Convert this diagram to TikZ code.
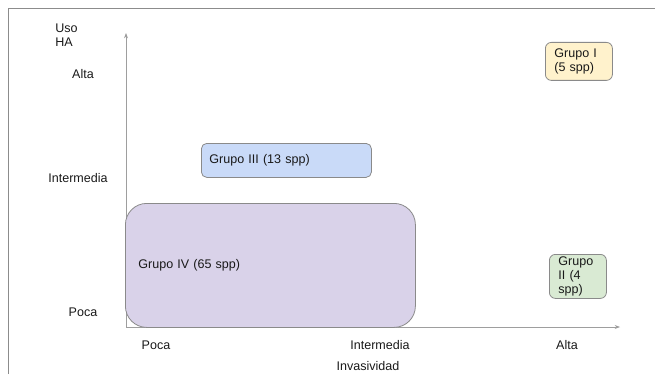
\documentclass[tikz,border=0pt]{standalone}
\usepackage{fontspec}
\setmainfont{Liberation Sans}
\usetikzlibrary{arrows.meta}
\definecolor{frameg}{HTML}{8C8C8C}
\definecolor{axisg}{HTML}{9E9E9E}
\definecolor{boxline}{HTML}{8A8A8A}
\definecolor{fillI}{HTML}{FFF2CC}
\definecolor{fillII}{HTML}{D9EAD3}
\definecolor{fillIII}{HTML}{C9DAF8}
\definecolor{fillIV}{HTML}{D9D2E9}
\begin{document}
\begin{tikzpicture}[x=0.75pt,y=-0.75pt,
  every node/.style={font=\fontsize{9.4}{10.8}\selectfont, text=black!90},
  lbl/.style={inner sep=0pt},
  grp/.style={draw=boxline, line width=0.6pt, anchor=north west, align=left, inner ysep=0pt},
  axisline/.style={draw=axisg, line width=0.6pt, -{Stealth[length=4pt,width=3pt]}}]
\useasboundingbox (0,0) rectangle (655,374);
% frame
\draw[frameg, line width=0.6pt] (8,374) -- (8,8) -- (655,8);
% axes
\coordinate (O) at (126,327);
\coordinate (ytop) at (126,33);
\coordinate (xend) at (620,327);
\draw[axisline] (O) -- (ytop);
\draw[axisline] (O) -- (xend);
% groups
\node[grp, fill=fillIV, rounded corners=16pt, minimum width=217.5pt, minimum height=93pt, text width=198pt, inner xsep=9.75pt] (g4) at (125,203) {\raisebox{-2pt}{Grupo IV (65 spp)}};
\node[grp, fill=fillIII, rounded corners=4pt, minimum width=127.5pt, minimum height=25.5pt, text width=115.5pt, inner xsep=6pt] (g3) at (201,143) {Grupo III (13 spp)};
\node[grp, fill=fillI, rounded corners=4.5pt, minimum width=50.25pt, minimum height=28.5pt, text width=36.75pt, inner xsep=6.75pt] (g1) at (545,42) {Grupo I\\(5 spp)};
\node[grp, fill=fillII, rounded corners=4.5pt, minimum width=42.75pt, minimum height=33pt, text width=29.25pt, inner xsep=6.75pt] (g2) at (549,254) {Grupo\\II (4\\spp)};
% y labels
\node[lbl, anchor=west, align=left] (yt) at (55,35) {Uso\\HA};
\node[lbl] (ya) at (83,74) {Alta};
\node[lbl] (yi) at (78,178) {Intermedia};
\node[lbl] (yp) at (83,312) {Poca};
% x labels
\node[lbl] (xp) at (156,345) {Poca};
\node[lbl] (xi) at (380,345) {Intermedia};
\node[lbl] (xa) at (567,345) {Alta};
\node[lbl] (xt) at (368,366) {Invasividad};
\end{tikzpicture}
\end{document}
